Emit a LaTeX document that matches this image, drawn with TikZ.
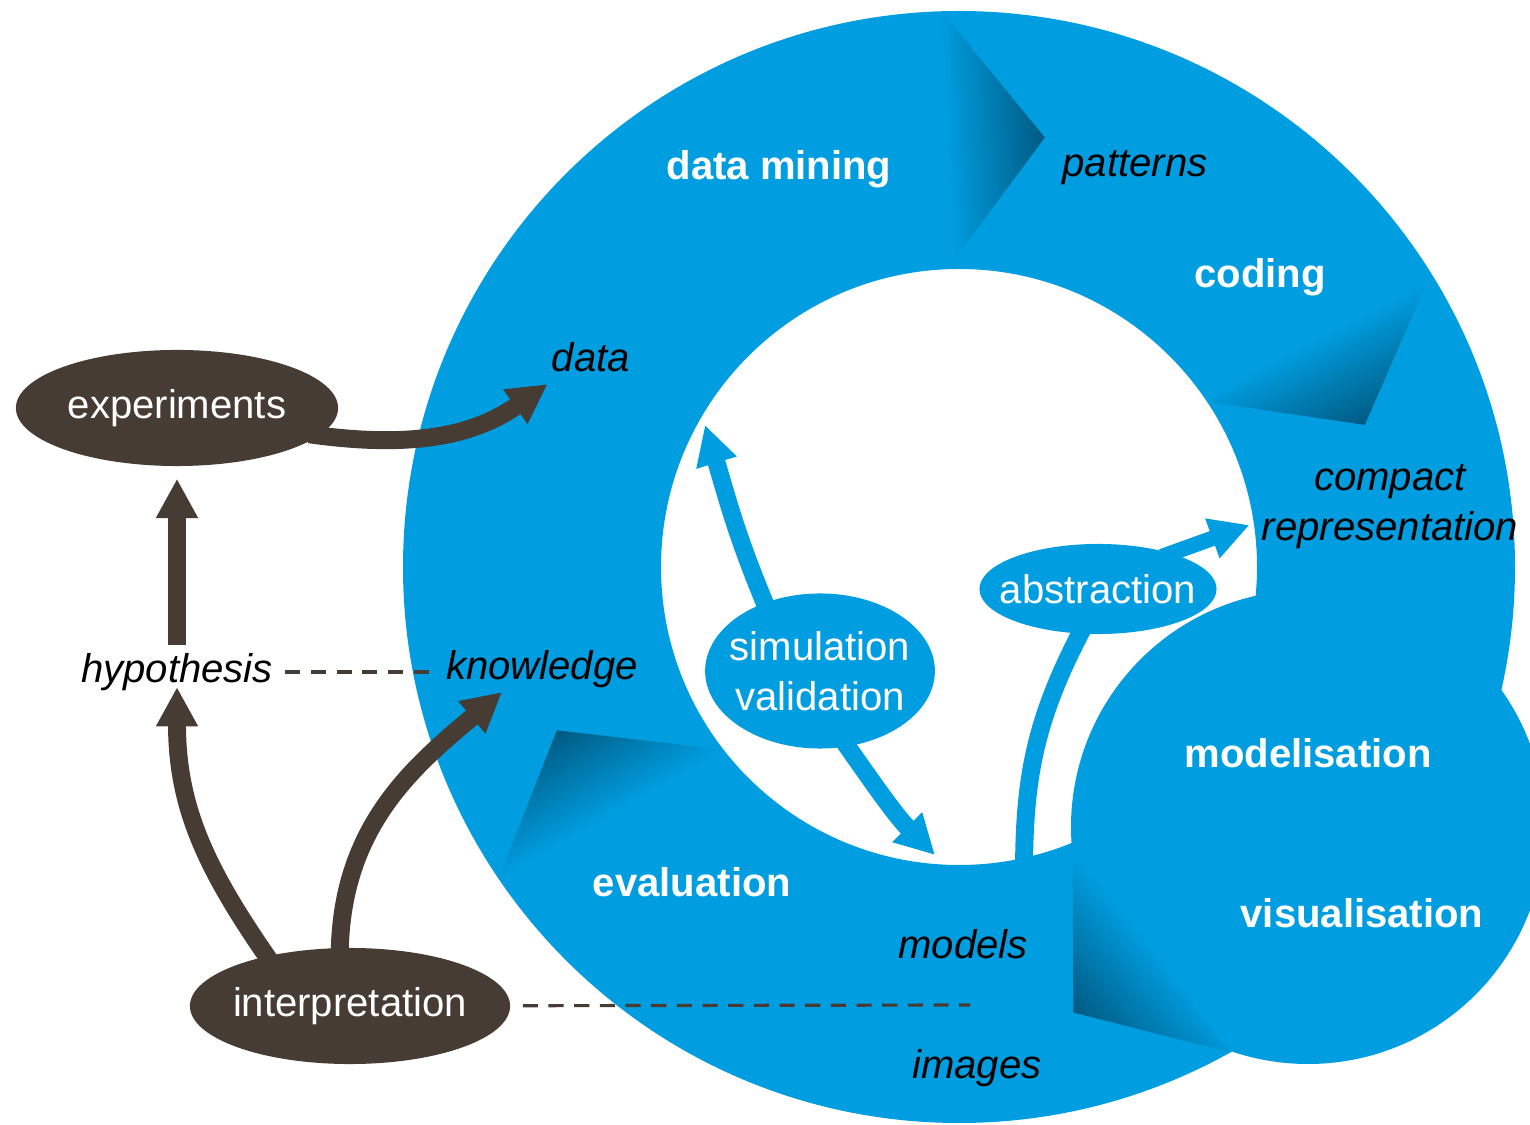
\documentclass[tikz,border=0pt]{standalone}
\usepackage{fontspec}
\setmainfont{Liberation Sans}
\usetikzlibrary{arrows.meta,shapes.geometric,calc}
\definecolor{ringblue}{RGB}{0,158,224}
\definecolor{ringdark}{RGB}{0,90,130}
\definecolor{umber}{RGB}{70,60,51}
\newcommand{\cyclefont}{\fontsize{11.4}{14.2}\selectfont}

\begin{document}
\begin{tikzpicture}[x=0.01cm, y=0.01cm,
    stage/.style={text=white, font=\cyclefont\bfseries},
    item/.style={text=black, font=\cyclefont\itshape, align=center},
    bubble/.style={ellipse, fill=ringblue, text=white, font=\cyclefont, align=center, inner sep=0pt},
    blob/.style={ellipse, fill=umber, text=white, font=\cyclefont, inner sep=0pt},
    thickarrow/.style={line width=5.1pt, -{Triangle[width=11.2pt,length=11.2pt]}},
    link/.style={draw=umber, line width=0.9pt, dash pattern=on 4.3pt off 3pt}]

  \useasboundingbox (0,0) rectangle (1530,1124);
  \clip (0,0) rectangle (1530,1124);

  % ring and bulge
  \coordinate (ctr) at (959,557);
  \fill[ringblue, even odd rule] (ctr) circle (556) (ctr) circle (298);
  \fill[ringblue] (1308,297) circle (237);

  % folds of the ring
  \foreach \aout/\ain/\atip/\rtip/\ga/\len in {91.8/92.3/78.7/438/3/100, 31.9/33.7/19.3/430/-63/100, -60.8/-67.6/-75.6/460/-140/104, 214.1/217.8/202.1/434/120/101} {
    \coordinate (tip) at ($(ctr)+(\atip:\rtip)$);
    \begin{scope}
      \clip ($(ctr)+(\aout:556)$) -- (tip) -- ($(ctr)+(\ain:298)$) -- cycle;
      \begin{scope}[transform canvas={rotate around={\ga:(tip)}}]
        \shade[left color=ringblue, right color=ringdark] ($(tip)+(-\len,-300)$) rectangle ($(tip)+(0,300)$);
      \end{scope}
    \end{scope}
  }

  % labels on the ring
  \node[item] (data) at (591,767) {data};
  \node[stage] (mining) at (779,955) {data mining};
  \node[item] (patterns) at (1135,956) {patterns};
  \node[stage] (coding) at (1260,847) {coding};
  \node[item] (crep) at (1390,617) {compact\\representation};
  \node[stage] (modelis) at (1308,371) {modelisation};
  \node[stage] (visual) at (1362,211) {visualisation};
  \node[item] (models) at (963,180) {models};
  \node[item] (images) at (977,56) {images};
  \node[stage] (eval) at (692,242) {evaluation};
  \node[item] (know) at (542,455) {knowledge};

  % inner bubbles
  \node[bubble, minimum width=2.29cm, minimum height=1.55cm, inner xsep=-0.09cm] (simval) at (820,453) {simulation\\validation};
  \node[bubble, minimum width=2.37cm, minimum height=0.9cm, inner xsep=-0.15cm] (abs) at (1098,535) {abstraction};
  \coordinate (simtop) at (705,699);
  \coordinate (simbot) at (935,269);
  \coordinate (stemend) at (1024,250);
  \draw[thickarrow, ringblue, shorten <=-3pt] (simval.129) to[out=113, in=-73] (simtop);
  \draw[thickarrow, ringblue, shorten <=-3pt] (simval.-70) to[out=-55, in=135] (simbot);
  \draw[thickarrow, ringblue, line width=4.4pt, shorten <=-3pt] (abs.26) -- ([yshift=-0.18cm]crep.west);
  \draw[ringblue, line width=5.1pt, shorten <=-3pt] (abs.-112) to[out=-118, in=90] (stemend);

  % outer loop
  \node[blob, minimum width=3.22cm, minimum height=1.16cm] (exp) at (177,716) {experiments};
  \node[blob, minimum width=3.2cm, minimum height=1.16cm, inner xsep=-0.04cm] (interp) at (350,118) {interpretation};
  \node[item] (hyp) at (177,452) {hypothesis};
  \draw[thickarrow, umber, shorten >=0.12cm, shorten <=-0.04cm] (hyp) -- (exp);
  \draw[thickarrow, umber, shorten <=-3pt] (exp.-11) to[out=-8, in=215] ([xshift=0.08cm]data.south west);
  \draw[thickarrow, umber, shorten <=-3pt, shorten >=-0.16cm] (interp.149) to[out=125, in=-90] (hyp.south);
  \draw[thickarrow, umber, shorten <=-3pt] (interp.100) to[out=90, in=220] ([xshift=-0.4cm, yshift=0.08cm]know.south);

  % dashed links
  \coordinate (dashend) at (970,119);
  \draw[link] (hyp.east) -- (hyp.east -| know.west);
  \draw[link, shorten <=0.12cm] (interp) -- (dashend);
\end{tikzpicture}
\end{document}
